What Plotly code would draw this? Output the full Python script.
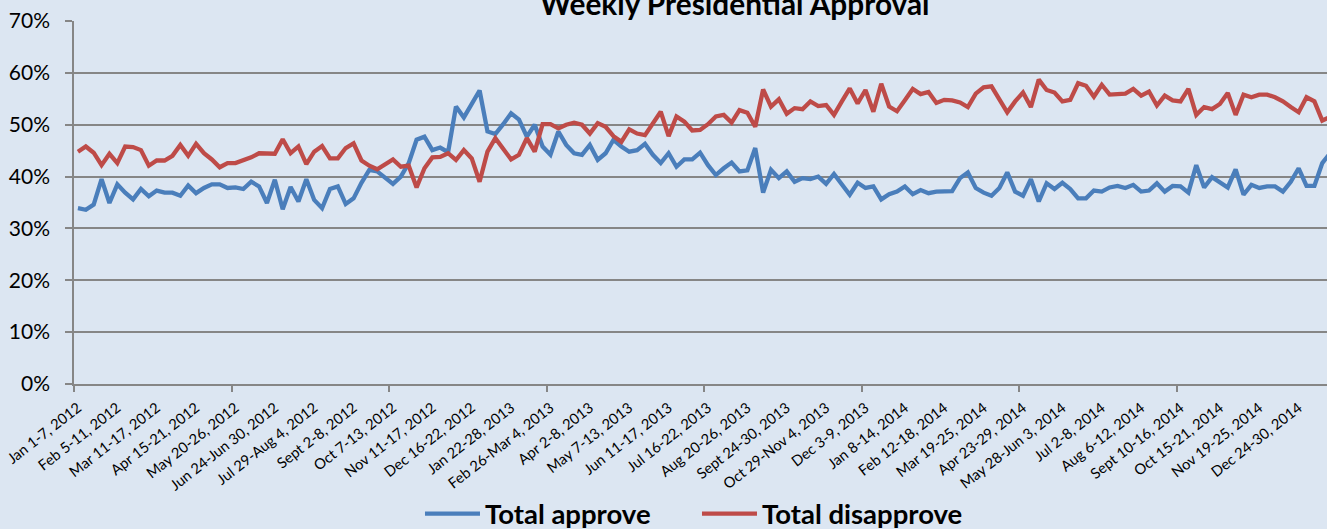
import plotly.graph_objects as go

tick_labels = ["Jan 1-7, 2012", "Feb 5-11, 2012", "Mar 11-17, 2012", "Apr 15-21, 2012",
               "May 20-26, 2012", "Jun 24-Jun 30, 2012", "Jul 29-Aug 4, 2012", "Sept 2-8, 2012",
               "Oct 7-13, 2012", "Nov 11-17, 2012", "Dec 16-22, 2012", "Jan 22-28, 2013",
               "Feb 26-Mar 4, 2013", "Apr 2-8, 2013", "May 7-13, 2013", "Jun 11-17, 2013",
               "Jul 16-22, 2013", "Aug 20-26, 2013", "Sept 24-30, 2013", "Oct 29-Nov 4, 2013",
               "Dec 3-9, 2013", "Jan 8-14, 2014", "Feb 12-18, 2014", "Mar 19-25, 2014",
               "Apr 23-29, 2014", "May 28-Jun 3, 2014", "Jul 2-8, 2014", "Aug 6-12, 2014",
               "Sept 10-16, 2014", "Oct 15-21, 2014", "Nov 19-25, 2014", "Dec 24-30, 2014"]

approve = [33.9, 33.6, 34.6, 39.5, 34.9, 38.5, 36.9, 35.6, 37.6, 36.2,
           37.3, 36.9, 36.9, 36.3, 38.3, 36.8, 37.8, 38.5, 38.5, 37.8,
           37.9, 37.6, 39.0, 38.1, 34.9, 39.4, 33.7, 38.0, 35.2, 39.5,
           35.5, 33.9, 37.6, 38.1, 34.7, 35.8, 38.8, 41.3, 41.0, 39.7,
           38.6, 40.0, 42.6, 47.1, 47.7, 45.1, 45.6, 44.7, 53.5, 51.4,
           54.1, 56.6, 48.7, 48.2, 50.1, 52.2, 51.0, 47.7, 50.0, 45.8,
           44.2, 48.7, 46.1, 44.5, 44.2, 46.1, 43.2, 44.5, 47.1, 45.8,
           44.8, 45.1, 46.3, 44.2, 42.6, 44.5, 41.9, 43.3, 43.3, 44.6,
           42.2, 40.3, 41.6, 42.7, 41.0, 41.2, 45.5, 36.9, 41.3, 39.7,
           41.0, 39.0, 39.7, 39.5, 40.0, 38.6, 40.5, 38.4, 36.5, 38.8,
           37.8, 38.1, 35.6, 36.6, 37.1, 38.1, 36.6, 37.4, 36.8, 37.1,
           37.2, 37.2, 39.7, 40.8, 37.8, 36.9, 36.3, 37.8, 40.8, 37.1,
           36.3, 39.5, 35.2, 38.7, 37.6, 38.8, 37.6, 35.8, 35.8, 37.3,
           37.1, 37.9, 38.2, 37.8, 38.4, 37.1, 37.3, 38.7, 37.1, 38.2,
           38.1, 36.9, 42.2, 37.9, 39.9, 39.0, 37.9, 41.4, 36.5, 38.4,
           37.8, 38.1, 38.1, 37.1, 39.0, 41.6, 38.2, 38.2, 42.6, 44.5]

disapprove = [44.8, 45.8, 44.6, 42.2, 44.4, 42.6, 45.8, 45.7, 45.1, 42.1,
              43.1, 43.1, 44.0, 46.1, 44.0, 46.3, 44.5, 43.3, 41.8, 42.6,
              42.6, 43.1, 43.7, 44.5, 44.5, 44.4, 47.2, 44.5, 45.8, 42.4,
              44.8, 45.9, 43.5, 43.5, 45.5, 46.4, 43.1, 42.1, 41.4, 42.4,
              43.3, 41.9, 42.1, 37.9, 41.6, 43.7, 43.8, 44.5, 43.2, 45.1,
              43.5, 39.0, 44.8, 47.4, 45.5, 43.3, 44.2, 47.4, 44.8, 50.1,
              50.1, 49.3, 50.0, 50.4, 50.0, 48.3, 50.3, 49.6, 47.8, 46.7,
              49.1, 48.3, 48.0, 50.1, 52.5, 47.8, 51.6, 50.6, 48.9, 49.0,
              50.1, 51.6, 51.9, 50.4, 52.8, 52.3, 49.6, 56.8, 53.5, 54.9,
              52.1, 53.2, 53.0, 54.5, 53.6, 53.8, 51.9, 54.5, 57.0, 54.1,
              56.7, 52.5, 57.9, 53.5, 52.6, 54.7, 56.9, 55.9, 56.3, 54.2,
              54.8, 54.7, 54.3, 53.4, 56.0, 57.2, 57.4, 54.9, 52.4, 54.5,
              56.2, 53.4, 58.7, 56.7, 56.2, 54.5, 54.8, 58.0, 57.5, 55.4,
              57.7, 55.8, 56.0, 56.0, 56.9, 55.6, 56.4, 53.7, 55.6, 54.7,
              54.5, 56.9, 51.9, 53.4, 53.0, 54.0, 56.1, 51.9, 55.8, 55.3,
              55.8, 55.8, 55.3, 54.5, 53.4, 52.4, 55.3, 54.5, 50.8, 51.5]

weeks = list(range(len(approve)))
label_step = 5
tick_mark_step = 20

BG = "#DCE6F2"
GRID = "#868686"

fig = go.Figure()
fig.add_trace(go.Scatter(x=weeks, y=approve, mode="lines", name="Total approve",
                         line=dict(color="#4A7EBB", width=4.3)))
fig.add_trace(go.Scatter(x=weeks, y=disapprove, mode="lines", name="Total disapprove",
                         line=dict(color="#BE4B48", width=4.3)))

fig.update_layout(
    width=1327, height=529,
    margin=dict(l=74, r=0, t=21, b=145, autoexpand=False),
    paper_bgcolor=BG, plot_bgcolor=BG,
    font=dict(family="Lato", color="black"),
    showlegend=True,
    legend=dict(orientation="h", x=0.4972, xanchor="center", y=-0.29, yanchor="top",
                font=dict(family="Lato", size=27.5, color="black", weight="bold"),
                bgcolor="rgba(0,0,0,0)", entrywidth=207, entrywidthmode="pixels",
                itemwidth=55),
    annotations=[dict(text="<b>Weekly Presidential Approval</b>", xref="paper", yref="paper",
                      x=0.527, y=1.048, xanchor="center", yanchor="middle", showarrow=False,
                      font=dict(family="Lato", size=29.8, color="black"))],
)

fig.update_xaxes(
    automargin=False,
    range=[-0.5, 158.6],
    tickmode="array",
    tickvals=weeks[::label_step][:len(tick_labels)],
    ticktext=tick_labels,
    tickangle=-38,
    ticks="",
    tickfont=dict(family="Lato", size=14.7, color="black"),
    ticklabelstandoff=8,
    ticklabeloverflow="allow",
    showgrid=False, zeroline=False,
    showline=True, linecolor=GRID, linewidth=1.5,
    minor=dict(tickmode="array",
               tickvals=[w - 0.5 for w in weeks[::tick_mark_step]],
               ticks="outside", ticklen=6, tickwidth=1.5, tickcolor=GRID, showgrid=False),
)
fig.update_yaxes(
    automargin=False,
    range=[0, 70], dtick=10, ticksuffix="%",
    ticks="outside", ticklen=7, tickwidth=1.5, tickcolor=GRID,
    tickfont=dict(family="Lato", size=21, color="black"),
    showgrid=True, gridcolor=GRID, gridwidth=1.5,
    zeroline=False,
    showline=True, linecolor=GRID, linewidth=1.5,
    ticklabelstandoff=11,
)

fig.write_html(
    "out.html",
    config={"displayModeBar": False},
    post_script="document.documentElement.style.margin='0';document.body.style.margin='0';"
                "document.body.style.padding='0';document.body.style.overflow='hidden';",
)
